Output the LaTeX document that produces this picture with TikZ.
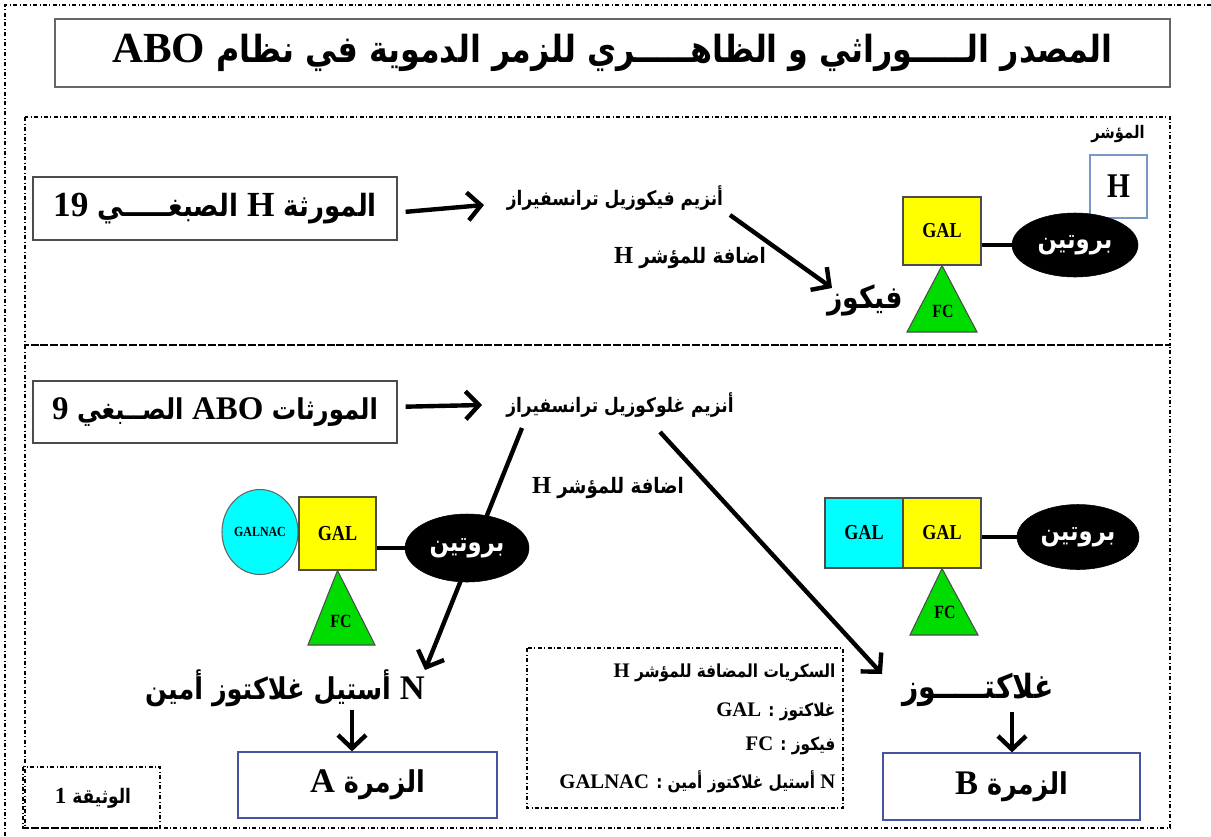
\documentclass[tikz,border=0pt]{standalone}
\usepackage{fontspec}
\setmainfont{Liberation Serif}
\newfontfamily\arabicfont[Script=Arabic,FakeStretch=0.85]{DejaVu Sans}
\newfontfamily\latinfont[Scale=1.15]{Liberation Serif}
\newfontfamily\labelfont[FakeStretch=0.85]{Liberation Serif}
\TeXXeTstate=1
\usetikzlibrary{arrows.meta,shapes.geometric}
\newcommand{\latw}[1]{\beginL{\latinfont\bfseries #1}\endL{}}
\newcommand{\arw}[1]{{\arabicfont\bfseries\beginR #1\endR}}
\definecolor{fcgreen}{RGB}{0,220,0}
\definecolor{galyellow}{RGB}{255,255,0}
\definecolor{galcyan}{RGB}{0,255,255}
\definecolor{grpblue}{RGB}{68,84,160}
\definecolor{hblue}{RGB}{120,150,200}

\begin{document}
\begin{tikzpicture}[x=0.75pt,y=0.75pt,yscale=-1,xscale=1,
  box/.style={draw=black!70,line width=0.9pt,fill=white,inner sep=0pt},
  grpbox/.style={draw=grpblue,line width=0.9pt,inner sep=0pt,font=\fontsize{22.5}{24}\selectfont},
  frame/.style={dash dot,line width=0.8pt},
  arr/.style={line width=3.3pt,-{Straight Barb[length=10pt,width=21pt]}},
  sugar/.style={draw=black!70,line width=0.8pt,inner sep=0pt,minimum width=58.5pt,minimum height=52.5pt,font=\labelfont\bfseries\fontsize{16}{16}\selectfont},
  fctri/.style={draw=black!70,line width=0.8pt,fill=fcgreen},
  fclbl/.style={font=\labelfont\bfseries\fontsize{14}{14}\selectfont},
  prot/.style={ellipse,fill=black,draw=black,text=white,inner sep=0pt,font=\fontsize{20}{22}\selectfont},
  link/.style={line width=3pt},
  lbl/.style={inner sep=1pt,font=\fontsize{16}{18}\selectfont},
  legend/.style={inner sep=1pt,anchor=east,font=\fontsize{13.5}{15}\selectfont},
  big/.style={inner sep=1pt,font=\fontsize{22.5}{24}\selectfont}]
\useasboundingbox (0,0) rectangle (1211,836);

%Frames
\draw[frame] (1211,5) -- (5,5) -- (5,836);
\draw[frame] (25,117) rectangle (1170,345);
\draw[frame] (25,345) rectangle (1170,828);

%Title
\node[box,draw=black!60,line width=1.3pt,minimum width=836pt,minimum height=51pt] (title) at (612.5,53) {\fontsize{28}{30}\selectfont\arw{المصدر الـــــوراثي و الظاهـــــري للزمر الدموية في نظام \latw{ABO}}};

%----- gene H
\node[box,minimum width=273pt,minimum height=47.25pt] (geneH) at (215,208.5) {\fontsize{23}{25}\selectfont\arw{المورثة \latw{H} الصبغـــــي \latw{19}}};
% Text Node
\node[lbl,font=\fontsize{15}{17}\selectfont] (enzH) at (615,198) {\arw{أنزيم فيكوزيل ترانسفيراز}};
\node[lbl] (addH) at (690,258) {\arw{اضافة للمؤشر \latw{H}}};
\node[big,font=\fontsize{23.5}{25}\selectfont] (fuc) at (865,300) {\arw{فيكوز}};
\coordinate (a1e) at (484,205);
\coordinate (a2s) at (730,215);
\coordinate (a2e) at (832,288);
\draw[arr] ([xshift=6pt,yshift=2.5pt]geneH.east) -- (a1e);
\draw[arr] (a2s) -- (a2e);

%Shape: H marker
\node[lbl,font=\fontsize{13}{15}\selectfont] (markLbl) at (1118,134) {\arw{المؤشر}};
\node[draw=hblue,line width=0.8pt,inner sep=0pt,minimum width=42.75pt,minimum height=47.25pt,font=\labelfont\bfseries\fontsize{26}{26}\selectfont] (markH) at (1118.5,186.5) {H};

%Shape: molecule H
\node[sugar,fill=galyellow,minimum height=51pt] (galH) at (942,231) {GAL};
\filldraw[fctri] (galH.south) -- (977,332) -- (907,332) -- cycle;
\node[fclbl] (fcH) at (943,311) {FC};
\node[prot,minimum width=94.5pt,minimum height=48pt] (protH) at (1075,245) {\arw{بروتين}};
\draw[link] (galH.east |- protH.west) -- (protH.west);

%----- genes ABO
\node[box,minimum width=273pt,minimum height=46.5pt] (geneABO) at (215,412) {\fontsize{21.5}{23}\selectfont\arw{المورثات \latw{ABO} الصــبغي \latw{9}}};
% Text Node
\node[lbl,font=\fontsize{15}{17}\selectfont] (enzABO) at (620,405) {\arw{أنزيم غلوكوزيل ترانسفيراز}};
\node[lbl] (addABO) at (608,488) {\arw{اضافة للمؤشر \latw{H}}};
\node[big] (nacet) at (285,688) {\arw{\latw{N} أستيل غلاكتوز أمين}};
\node[big,font=\fontsize{25}{27}\selectfont] (galac) at (978,690) {\arw{غلاكتـــــوز}};
\coordinate (b1e) at (482,405);
\coordinate (b2s) at (522,428);
\coordinate (b2e) at (425,670);
\coordinate (b3s) at (660,432);
\coordinate (b3e) at (882,674);
\draw[arr] ([xshift=6pt,yshift=-4pt]geneABO.east) -- (b1e);
\draw[arr] (b2s) -- (b2e);
\draw[arr] (b3s) -- (b3e);

%Shape: molecule A
\node[ellipse,draw=black!60,line width=0.8pt,fill=galcyan,minimum width=57pt,minimum height=63.75pt,inner sep=0pt,font=\labelfont\bfseries\fontsize{10.5}{10.5}\selectfont] (galnac) at (260,532) {GALNAC};
\node[sugar,fill=galyellow,minimum width=57.75pt,minimum height=54.75pt] (galA) at (337.5,533.5) {GAL};
\filldraw[fctri] (galA.south) -- (375,645) -- (308,645) -- cycle;
\node[fclbl] (fcA) at (341,621) {FC};
\node[prot,minimum width=93pt,minimum height=51pt] (protA) at (467,548) {\arw{بروتين}};
\draw[link] (galA.east |- protA.west) -- (protA.west);

%Shape: molecule B
\node[sugar,fill=galcyan] (galB1) at (864,533) {GAL};
\node[sugar,fill=galyellow] (galB2) at (942,533) {GAL};
\filldraw[fctri] (galB2.south) -- (978,635) -- (910,635) -- cycle;
\node[fclbl] (fcB) at (945,612) {FC};
\node[prot,minimum width=91.5pt,minimum height=48.75pt] (protB) at (1078,537) {\arw{بروتين}};
\draw[link] (galB2.east |- protB.west) -- (protB.west);

%----- blood groups
\node[grpbox,minimum width=194.25pt,minimum height=49.5pt] (grpA) at (367.5,785) {\arw{الزمرة \latw{A}}};
\node[grpbox,minimum width=192.75pt,minimum height=50.25pt] (grpB) at (1011.5,786.5) {\arw{الزمرة \latw{B}}};
\coordinate (c1s) at (352,710);
\coordinate (c2s) at (1012,712);
\draw[arr] (c1s) -- (c1s |- grpA.north);
\draw[arr] (c2s) -- (c2s |- grpB.north);

%Legend
\draw[frame] (527,648) rectangle (843,808);
\node[legend] (lg1) at (837,673) {\arw{السكريات المضافة للمؤشر \latw{H}}};
\node[legend] (lg2) at (837,712) {\arw{غلاكتوز : \latw{GAL}}};
\node[legend] (lg3) at (837,746) {\arw{فيكوز : \latw{FC}}};
\node[legend] (lg4) at (837,782) {\arw{\latw{N} أستيل غلاكتوز أمين : \latw{GALNAC}}};

%Document label
\draw[frame] (23,767) rectangle (160,828);
\node[lbl,font=\fontsize{15}{17}\selectfont] (doc) at (93,798) {\arw{الوثيقة \latw{1}}};

\end{tikzpicture}
\end{document}
